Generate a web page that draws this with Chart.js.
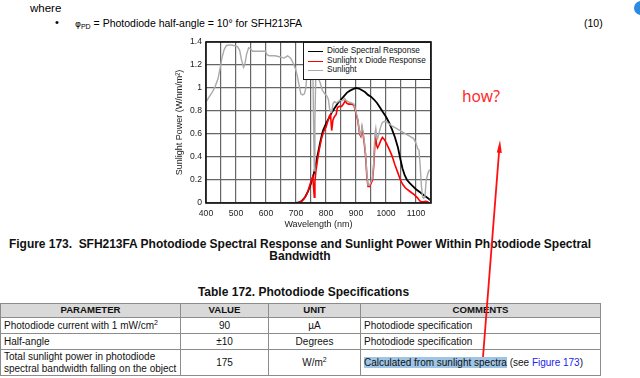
<!DOCTYPE html>
<html><head><meta charset="utf-8">
<script src="https://cdn.jsdelivr.net/npm/chart.js@4"></script>
<style>
html,body{margin:0;padding:0;background:#fff;}
body{width:640px;height:378px;position:relative;overflow:hidden;font-family:"Liberation Sans",Arial,sans-serif;color:#000;}
.t{position:absolute;white-space:nowrap;line-height:1;}
#chartWrap{position:absolute;left:160px;top:30px;width:280px;height:202px;}
#legend{position:absolute;left:303px;top:42px;width:128px;height:38px;box-sizing:border-box;border:1.5px solid #1a1a1a;background:#fff;z-index:5;}
.lg{position:absolute;left:4px;height:0;width:15px;}
.lgt{position:absolute;left:23px;font-size:8.2px;line-height:1;white-space:nowrap;color:#111;}
table{position:absolute;left:0px;top:303px;width:600px;border-collapse:collapse;table-layout:fixed;font-size:10px;}
td,th{border:1.5px solid #8c8c8c;padding:0 3px;vertical-align:middle;line-height:1.12;color:#111;}
th{background:#d9d9d9;font-weight:bold;font-size:9.6px;height:13px;}
.c{text-align:center;}
sup{font-size:7px;vertical-align:4px;line-height:0;}
.hl{background:#9fc5e6;}
.lnk{color:#2222ee;}
svg{position:absolute;left:0;top:0;z-index:10;}
</style>
</head><body>
<div class="t" style="left:30px;top:3px;font-size:11.5px;">where</div>
<div class="t" style="left:55px;top:17px;font-size:11px;">•</div>
<div class="t" style="left:75px;top:18px;font-size:10.5px;"><span style="font-family:'DejaVu Sans';font-size:9px;">φ</span><span style="font-size:7px;vertical-align:-2px;">PD</span> = Photodiode half-angle = 10° for SFH213FA</div>
<div class="t" style="left:584px;top:18px;font-size:10.5px;">(10)</div>
<div style="position:absolute;left:634px;top:1px;width:14px;height:14px;border-radius:50%;background:#2a8be0;"></div>

<div id="chartWrap"><canvas id="c" width="280" height="202"></canvas></div>
<div id="legend">
  <div class="lg" style="top:8px;border-top:1.8px solid #000;"></div>
  <div class="lgt" style="top:4px;">Diode Spectral Response</div>
  <div class="lg" style="top:17.5px;border-top:1.6px solid #ff0000;"></div>
  <div class="lgt" style="top:13.5px;">Sunlight x Diode Response</div>
  <div class="lg" style="top:27px;border-top:1.5px solid #aaaaaa;"></div>
  <div class="lgt" style="top:23px;">Sunlight</div>
</div>

<div class="t" style="left:9px;top:238px;font-size:12px;font-weight:bold;color:#111;letter-spacing:-0.03px;">Figure 173.&nbsp; SFH213FA Photodiode Spectral Response and Sunlight Power Within Photodiode Spectral</div>
<div class="t" style="left:0;width:600px;text-align:center;top:250px;font-size:12px;font-weight:bold;color:#111;">Bandwidth</div>
<div class="t" style="left:0;width:607px;text-align:center;top:286px;font-size:12px;font-weight:bold;color:#111;">Table 172. Photodiode Specifications</div>

<table>
<colgroup><col style="width:180px"><col style="width:88px"><col style="width:92px"><col style="width:240px"></colgroup>
<tr><th>PARAMETER</th><th>VALUE</th><th>UNIT</th><th>COMMENTS</th></tr>
<tr style="height:16px"><td>Photodiode current with 1 mW/cm<sup>2</sup></td><td class="c">90</td><td class="c">µA</td><td>Photodiode specification</td></tr>
<tr style="height:16px"><td>Half-angle</td><td class="c">±10</td><td class="c">Degrees</td><td>Photodiode specification</td></tr>
<tr style="height:26px"><td>Total sunlight power in photodiode<br>spectral bandwidth falling on the object</td><td class="c">175</td><td class="c">W/m<sup>2</sup></td><td><span class="hl">Calculated from sunlight spectra</span> (see <span class="lnk">Figure 173</span>)</td></tr>
</table>

<div class="t" style="left:462px;top:89px;font-size:15.5px;font-family:'Noto Sans',sans-serif;color:#ff2a2a;">how?</div>

<svg width="640" height="378">
  <line x1="483" y1="357" x2="499.2" y2="150" stroke="#ff1010" stroke-width="1.8"/>
  <polygon points="500,140 501.8,153 496.8,152.6" fill="#ff1010"/>
</svg>

<script>
// ---- data ----
const xMin = 400, xMax = 1150, xStep = 50;
const yMin = 0, yMax = 1.4, yStep = 0.1;
const xLabelEvery = 100;

const diodeWl  = [700,710,720,730,740,750,760,770,780,786,790,800,810,820,830,840,850,860,870,880,890,900,910,920,930,940,950,960,970,980,990,1000,1010,1020,1030,1040,1048,1055,1062,1070,1080,1090,1100,1110,1120,1130,1140,1143];
const diodeVal = [0,0.005,0.02,0.05,0.1,0.17,0.26,0.39,0.52,0.59,0.63,0.69,0.74,0.79,0.83,0.87,0.9,0.93,0.96,0.977,0.99,1.0,0.995,0.98,0.965,0.94,0.925,0.9,0.87,0.83,0.79,0.75,0.7,0.64,0.57,0.48,0.38,0.3,0.245,0.2,0.17,0.145,0.12,0.1,0.08,0.06,0.042,0.035];

const prodWl  = [705,715,725,735,742,750,756,759,761,763,766,772,778,785,792,800,806,812,815,819,823,828,834,838,845,852,858,864,868,875,885,893,900,906,912,916,920,924,928,932,936,940,945,950,955,959,963,966,969,972,976,982,988,995,1003,1012,1020,1030,1040,1048,1056,1065,1080,1095,1105,1112,1118,1125,1132,1138,1142];
const prodVal = [0,0.01,0.03,0.07,0.12,0.19,0.23,0.12,0.05,0.18,0.27,0.38,0.47,0.56,0.62,0.66,0.71,0.76,0.77,0.63,0.72,0.75,0.77,0.83,0.84,0.84,0.86,0.89,0.87,0.86,0.86,0.85,0.78,0.72,0.6,0.58,0.65,0.59,0.51,0.41,0.24,0.145,0.145,0.17,0.2,0.32,0.52,0.56,0.5,0.48,0.5,0.54,0.57,0.55,0.51,0.46,0.41,0.33,0.26,0.2,0.16,0.13,0.1,0.07,0.045,0.02,0.01,0.01,0.015,0.01,0.005];

const sunWl  = [400,410,420,430,440,447,453,460,468,480,492,505,512,518,525,529,535,542,548,555,570,585,598,603,612,630,648,660,672,682,690,698,704,710,716,722,728,733,737,742,750,756,759,761,763,766,772,780,788,796,803,808,812,815,819,823,828,835,845,855,862,868,875,885,893,900,906,912,916,920,924,928,932,936,940,945,950,955,959,963,966,969,972,976,982,988,995,1005,1020,1040,1060,1080,1092,1100,1106,1110,1114,1118,1122,1126,1130,1134,1140,1145];
const sunVal = [0.88,0.92,0.96,1.01,1.08,1.17,1.26,1.33,1.37,1.375,1.37,1.36,1.33,1.25,1.18,1.2,1.29,1.35,1.34,1.32,1.32,1.32,1.32,1.29,1.28,1.28,1.27,1.26,1.28,1.26,1.22,1.17,1.11,1.03,0.95,0.94,0.95,1.0,1.15,1.25,1.28,1.22,0.6,0.28,0.7,1.12,1.1,1.05,0.98,0.95,0.93,0.9,0.82,0.8,0.79,0.86,0.88,0.87,0.89,0.89,0.91,0.89,0.88,0.87,0.86,0.79,0.73,0.61,0.59,0.67,0.61,0.53,0.43,0.26,0.155,0.155,0.185,0.22,0.35,0.6,0.65,0.58,0.56,0.6,0.66,0.7,0.71,0.7,0.67,0.64,0.61,0.58,0.56,0.52,0.47,0.46,0.32,0.15,0.05,0.04,0.06,0.2,0.26,0.29];

const xyPairs = (xs, ys) => xs.map((x, i) => ({x, y: ys[i]}));

Chart.defaults.font.family = "'Liberation Sans', Arial, sans-serif";

const framePlugin = {
  id: 'frame',
  afterDraw(chart) {
    const {ctx, chartArea: a} = chart;
    ctx.save();
    ctx.strokeStyle = '#111';
    ctx.lineWidth = 1.6;
    ctx.strokeRect(a.left, a.top, a.right - a.left, a.bottom - a.top);
    ctx.restore();
  }
};

new Chart(document.getElementById('c'), {
  type: 'line',
  data: {
    datasets: [
      {label: 'Diode Spectral Response', data: xyPairs(diodeWl, diodeVal), borderColor: '#000', borderWidth: 1.8, order: 3},
      {label: 'Sunlight x Diode Response', data: xyPairs(prodWl, prodVal), borderColor: '#ff0000', borderWidth: 1.6, order: 2},
      {label: 'Sunlight', data: xyPairs(sunWl, sunVal), borderColor: '#aaaaaa', borderWidth: 1.4, order: 1}
    ]
  },
  options: {
    responsive: false,
    animation: false,
    devicePixelRatio: 1,
    layout: {padding: {left: 0, top: 12, right: 9, bottom: 0}},
    elements: {point: {radius: 0}, line: {tension: 0, fill: false}},
    plugins: {legend: {display: false}, tooltip: {enabled: false}},
    scales: {
      x: {
        type: 'linear', min: xMin, max: xMax,
        afterFit(s) { s.height = 29; },
        grid: {color: '#666', lineWidth: 1.2, drawTicks: false},
        border: {display: false},
        ticks: {stepSize: xStep, autoSkip: false, maxRotation: 0, padding: 5, color: '#222', font: {size: 8.6},
          callback: v => (v % xLabelEvery === 0 ? String(v) : '')},
        title: {display: true, text: 'Wavelength (nm)', color: '#222', font: {size: 9}, padding: {top: 0, bottom: 2}}
      },
      y: {
        min: yMin, max: yMax,
        afterFit(s) { s.width = 46; },
        grid: {color: '#666', lineWidth: 1.2, drawTicks: false},
        border: {display: false},
        ticks: {stepSize: yStep, padding: 4, color: '#222', font: {size: 8.6},
          callback: v => String(Math.round(v * 10) / 10)},
        title: {display: true, text: 'Sunlight Power (W/nm/m²)', color: '#222', font: {size: 9}, padding: {top: 14.6, bottom: 0}}
      }
    }
  },
  plugins: [framePlugin]
});
</script>
</body></html>
